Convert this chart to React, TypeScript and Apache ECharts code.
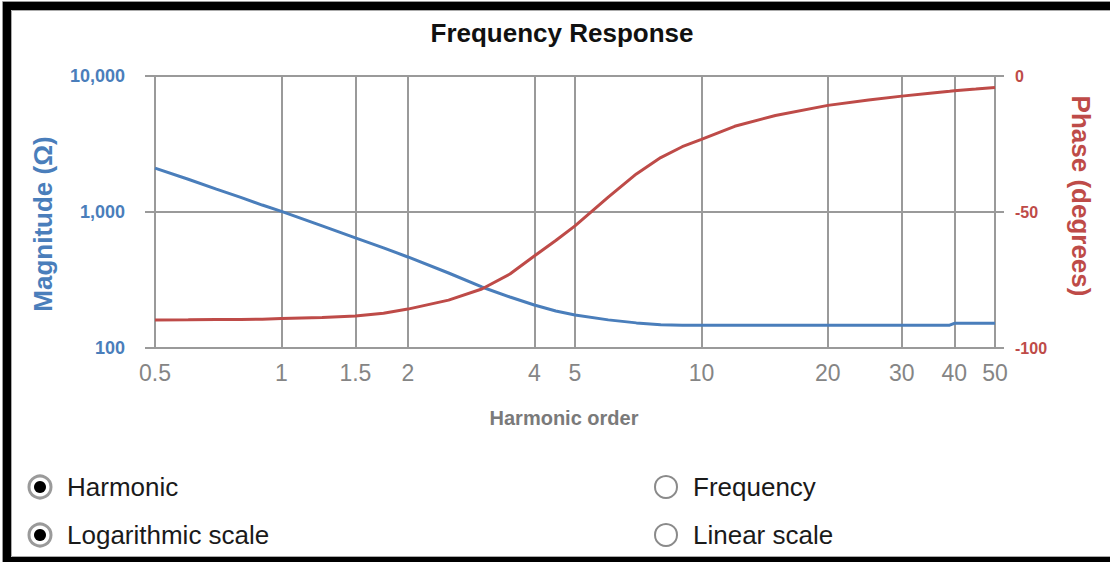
import React, { useEffect, useRef } from "react";
import * as echarts from "echarts";

// ---- data ----
const harmonicTicks = [0.5, 1, 1.5, 2, 4, 5, 10, 20, 30, 40, 50];
const harmonics = [0.5, 0.6, 0.7, 0.8, 0.9, 1, 1.25, 1.5, 1.75, 2, 2.5, 3, 3.5, 4, 4.5, 5, 6, 7, 8, 9, 10, 12, 15, 20, 25, 30, 35, 39, 40, 45, 50];
const magnitude = [2100, 1740, 1475, 1280, 1125, 1010, 790, 645, 545, 467, 356, 281, 237, 207, 187, 175, 161, 153, 148, 147, 147, 147, 147, 147, 147, 147, 147, 147, 152, 152, 152];
const phase = [-89.7, -89.6, -89.5, -89.5, -89.4, -89.2, -88.8, -88.2, -87.2, -85.7, -82.4, -78.3, -72.8, -66.2, -60.5, -55.1, -44.5, -36, -30, -26, -23.3, -18.5, -14.5, -10.8, -8.8, -7.4, -6.3, -5.6, -5.4, -4.8, -4.2];
const radioLabels = ["Harmonic", "Logarithmic scale", "Frequency", "Linear scale"];
const radioChecked = [true, true, false, false];

const FONT = '"Liberation Sans", Arial, sans-serif';
const BLUE = "#4a7ebb";
const RED = "#be4b48";
const GRID = "#9a9a9a";

function radio(cx: number, cy: number, checked: boolean, label: string) {
  const els: any[] = [
    {
      type: "circle",
      shape: { cx, cy, r: 11 },
      style: { fill: "#fff", stroke: checked ? "#9a9a9a" : "#8a8a8a", lineWidth: checked ? 3 : 2 },
    },
  ];
  if (checked) {
    els.push({
      type: "circle",
      shape: { cx, cy, r: 6 },
      style: { fill: "#000" },
    });
  }
  els.push({
    type: "text",
    style: {
      text: label,
      x: cx + 27,
      y: cy,
      fill: "#1a1a1a",
      fontSize: 26,
      fontFamily: FONT,
      align: "left",
      verticalAlign: "middle",
      textAlign: "left",
      textVerticalAlign: "middle",
    },
  });
  return els;
}

export default function App() {
  const ref = useRef<HTMLDivElement>(null);
  useEffect(() => {
    if (!ref.current) return;
    const chart = echarts.init(ref.current, undefined, { renderer: "svg" });
    const magData = harmonics.map((h, i) => [h, magnitude[i]]);
    const phData = harmonics.map((h, i) => [h, phase[i]]);
    const radios = [
      ...radio(40, 487, radioChecked[0], radioLabels[0]),
      ...radio(40, 535, radioChecked[1], radioLabels[1]),
      ...radio(666, 487, radioChecked[2], radioLabels[2]),
      ...radio(666, 535, radioChecked[3], radioLabels[3]),
    ];
    const option: any = {
      animation: false,
      textStyle: { fontFamily: FONT },
      grid: { left: 155, right: 115, top: 76, bottom: 214, containLabel: false, outerBoundsMode: "none" },
      xAxis: {
        type: "log",
        logBase: 10,
        min: 0.5,
        max: 50,
        name: "Harmonic order",
        nameLocation: "middle",
        nameGap: 60,
        nameTextStyle: { color: "#7a7a7a", fontWeight: "bold", fontSize: 20, fontFamily: FONT, padding: [0, 22, 0, 0] },
        axisLine: { show: false },
        axisTick: { show: true, length: 8, customValues: harmonicTicks, lineStyle: { color: GRID, width: 2 } },
        axisLabel: {
          customValues: harmonicTicks,
          color: "#858585",
          fontSize: 23,
          margin: 13,
          fontFamily: FONT,
          formatter: (v: number) => String(v),
        },
        splitLine: { show: true, lineStyle: { color: GRID, width: 2 } },
      },
      yAxis: [
        {
          type: "log",
          logBase: 10,
          min: 100,
          max: 10000,
          position: "left",
          name: "Magnitude (Ω)",
          nameLocation: "middle",
          nameGap: 99,
          nameTextStyle: { color: BLUE, fontWeight: "bold", fontSize: 26, fontFamily: FONT, padding: [0, 24, 0, 0] },
          axisLine: { show: false },
          axisTick: { show: true, length: 10, lineStyle: { color: GRID, width: 2 } },
          axisLabel: {
            color: BLUE,
            fontWeight: "bold",
            fontSize: 18,
            margin: 30,
            fontFamily: FONT,
            formatter: (v: number) => Number(v).toLocaleString("en-US"),
          },
          splitLine: { show: true, lineStyle: { color: GRID, width: 2 } },
        },
        {
          type: "value",
          min: -100,
          max: 0,
          interval: 50,
          position: "right",
          name: "Phase (degrees)",
          nameLocation: "middle",
          nameRotate: -90,
          nameGap: 73,
          nameTextStyle: { color: RED, fontWeight: "bold", fontSize: 26, fontFamily: FONT, padding: [0, 32, 0, 0] },
          axisLine: { show: false },
          axisTick: { show: true, length: 9, lineStyle: { color: GRID, width: 2 } },
          axisLabel: { color: RED, fontWeight: "bold", fontSize: 16, margin: 20, fontFamily: FONT },
          splitLine: { show: false },
        },
      ],
      series: [
        {
          name: "Magnitude",
          type: "line",
          yAxisIndex: 0,
          data: magData,
          showSymbol: false,
          lineStyle: { color: BLUE, width: 3 },
          itemStyle: { color: BLUE },
        },
        {
          name: "Phase",
          type: "line",
          yAxisIndex: 1,
          data: phData,
          showSymbol: false,
          lineStyle: { color: RED, width: 3 },
          itemStyle: { color: RED },
        },
      ],
      graphic: [
        { type: "rect", shape: { x: 2.5, y: 1.5, width: 1300, height: 700 }, style: { fill: "none", stroke: "#999", lineWidth: 1 } },
        { type: "rect", shape: { x: 7, y: 6, width: 1300, height: 555 }, style: { fill: "none", stroke: "#000", lineWidth: 8 } },
        { type: "rect", shape: { x: 11.5, y: 10.5, width: 1300, height: 546 }, style: { fill: "none", stroke: "#aaa", lineWidth: 1 } },
        {
          type: "text",
          style: {
            text: "Frequency Response",
            x: 562,
            y: 33,
            fill: "#111",
            fontSize: 26,
            fontWeight: "bold",
            fontFamily: FONT,
            align: "center",
            verticalAlign: "middle",
            textAlign: "center",
            textVerticalAlign: "middle",
          },
        },
        ...radios,
      ],
    };
    chart.setOption(option);
    return () => chart.dispose();
  }, []);
  return (
    <div
      ref={ref}
      style={{ position: "absolute", left: 0, top: 0, width: 1110, height: 562, background: "#fff" }}
    />
  );
}
